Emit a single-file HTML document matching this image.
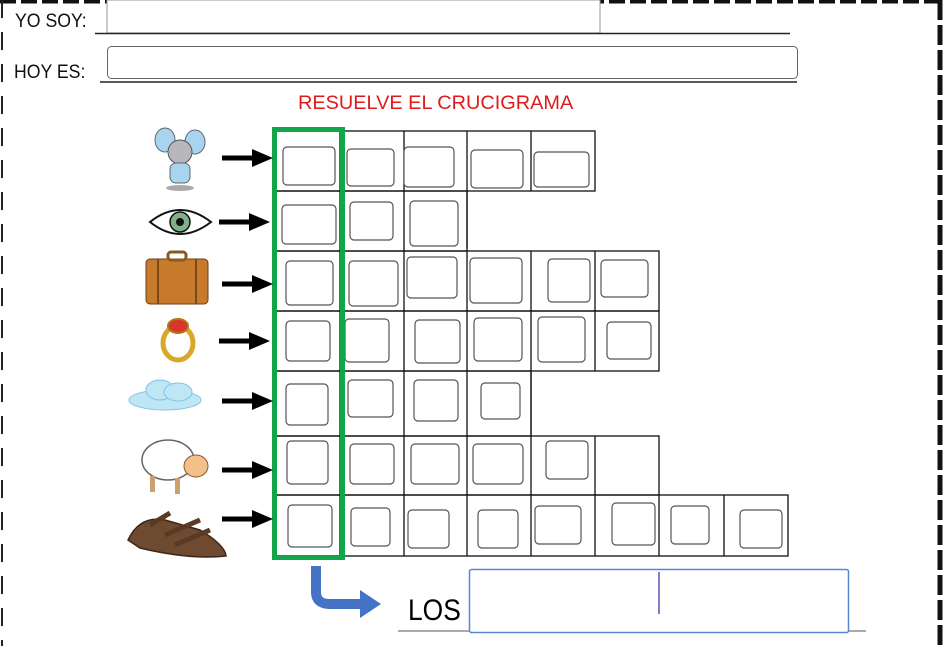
<!DOCTYPE html>
<html><head><meta charset="utf-8"><style>
body{margin:0;width:943px;height:646px;background:#fff;position:relative;overflow:hidden;font-family:"Liberation Sans",sans-serif}
.t{position:absolute;white-space:nowrap}
</style></head><body>
<svg width="943" height="646" style="position:absolute;left:0;top:0">
<line x1="0" y1="1.5" x2="943" y2="1.5" stroke="#111" stroke-width="4" stroke-dasharray="16,5"/>
<line x1="2" y1="0" x2="2" y2="646" stroke="#222" stroke-width="2" stroke-dasharray="18,14"/>
<line x1="940" y1="0" x2="940" y2="646" stroke="#111" stroke-width="5" stroke-dasharray="20,5"/>
<rect x="107" y="0" width="493" height="33" fill="#fff" stroke="#999" stroke-width="1"/>
<line x1="95" y1="33.5" x2="790" y2="33.5" stroke="#222" stroke-width="1.5"/>
<rect x="107.5" y="46.5" width="690" height="32" rx="4" fill="#fff" stroke="#666" stroke-width="1"/>
<line x1="100" y1="82" x2="797" y2="82" stroke="#222" stroke-width="1.5"/>
<g fill="none" stroke="#111" stroke-width="1.3">
<rect x="273" y="131" width="322" height="60"/>
<line x1="340" y1="131" x2="340" y2="556"/>
<line x1="404" y1="131" x2="404" y2="556"/>
<line x1="467" y1="131" x2="467" y2="248"/>
<line x1="531" y1="131" x2="531" y2="191"/>
<rect x="273" y="191" width="194" height="60"/>
<rect x="273" y="251" width="386" height="60"/>
<rect x="273" y="311" width="386" height="60"/>
<line x1="467" y1="251" x2="467" y2="436"/>
<line x1="531" y1="251" x2="531" y2="436"/>
<line x1="595" y1="251" x2="595" y2="371"/>
<rect x="273" y="371" width="258" height="65"/>
<rect x="273" y="436" width="386" height="59"/>
<line x1="467" y1="436" x2="467" y2="556"/>
<line x1="531" y1="436" x2="531" y2="556"/>
<line x1="595" y1="436" x2="595" y2="556"/>
<rect x="273" y="495" width="515" height="61"/>
<line x1="659" y1="495" x2="659" y2="556"/>
<line x1="724" y1="495" x2="724" y2="556"/>
</g>
<g fill="#fff" stroke="#555" stroke-width="1.2">
<rect x="283" y="147" width="52" height="38" rx="4"/><rect x="347" y="149" width="47" height="37" rx="4"/><rect x="404" y="147" width="50" height="40" rx="4"/><rect x="471" y="150" width="52" height="38" rx="4"/><rect x="534" y="152" width="55" height="35" rx="4"/>
<rect x="282" y="205" width="54" height="39" rx="4"/><rect x="350" y="202" width="43" height="38" rx="4"/><rect x="410" y="201" width="48" height="45" rx="4"/>
<rect x="286" y="261" width="47" height="44" rx="4"/><rect x="349" y="261" width="49" height="45" rx="4"/><rect x="407" y="257" width="50" height="41" rx="4"/><rect x="470" y="258" width="52" height="45" rx="4"/><rect x="548" y="259" width="42" height="43" rx="4"/><rect x="601" y="260" width="47" height="37" rx="4"/>
<rect x="286" y="321" width="44" height="40" rx="4"/><rect x="345" y="319" width="44" height="43" rx="4"/><rect x="415" y="320" width="45" height="43" rx="4"/><rect x="474" y="318" width="48" height="43" rx="4"/><rect x="538" y="317" width="47" height="45" rx="4"/><rect x="607" y="322" width="44" height="37" rx="4"/>
<rect x="286" y="384" width="42" height="41" rx="4"/><rect x="348" y="380" width="45" height="37" rx="4"/><rect x="414" y="380" width="44" height="41" rx="4"/><rect x="481" y="383" width="39" height="36" rx="4"/>
<rect x="287" y="441" width="41" height="43" rx="4"/><rect x="350" y="444" width="44" height="40" rx="4"/><rect x="411" y="444" width="48" height="40" rx="4"/><rect x="473" y="444" width="50" height="40" rx="4"/><rect x="546" y="441" width="42" height="38" rx="4"/>
<rect x="288" y="505" width="44" height="42" rx="4"/><rect x="351" y="508" width="39" height="38" rx="4"/><rect x="408" y="510" width="41" height="38" rx="4"/><rect x="478" y="510" width="40" height="38" rx="4"/><rect x="535" y="506" width="46" height="38" rx="4"/><rect x="612" y="503" width="43" height="42" rx="4"/><rect x="671" y="506" width="38" height="38" rx="4"/><rect x="740" y="510" width="42" height="38" rx="4"/>
</g>
<rect x="274.5" y="129.5" width="68" height="428" fill="none" stroke="#12a64a" stroke-width="5"/>
<g fill="#000">
<g transform="translate(0,158)"><rect x="222" y="-2.5" width="32" height="5"/><polygon points="252,-9 273,0 252,9"/></g>
<g transform="translate(-3,222)"><rect x="222" y="-2.5" width="32" height="5"/><polygon points="252,-9 273,0 252,9"/></g>
<g transform="translate(0,284)"><rect x="222" y="-2.5" width="32" height="5"/><polygon points="252,-9 273,0 252,9"/></g>
<g transform="translate(-3,341)"><rect x="222" y="-2.5" width="32" height="5"/><polygon points="252,-9 273,0 252,9"/></g>
<g transform="translate(0,401)"><rect x="222" y="-2.5" width="32" height="5"/><polygon points="252,-9 273,0 252,9"/></g>
<g transform="translate(0,470)"><rect x="222" y="-2.5" width="32" height="5"/><polygon points="252,-9 273,0 252,9"/></g>
<g transform="translate(0,519)"><rect x="222" y="-2.5" width="32" height="5"/><polygon points="252,-9 273,0 252,9"/></g>
</g>
<g>
<ellipse cx="165" cy="140" rx="10" ry="12" fill="#a9d4f0" stroke="#666"/>
<ellipse cx="195" cy="142" rx="10" ry="12" fill="#a9d4f0" stroke="#666"/>
<ellipse cx="180" cy="152" rx="12" ry="12" fill="#b8b8bc" stroke="#555"/>
<rect x="170" y="163" width="20" height="20" rx="6" fill="#a9d4f0" stroke="#666"/>
<ellipse cx="180" cy="188" rx="14" ry="3" fill="#aaa"/>
</g>
<g>
<path d="M150 222 Q180 198 211 222 Q180 246 150 222Z" fill="#fff" stroke="#111" stroke-width="2"/>
<circle cx="180" cy="222" r="10" fill="#7fb08a" stroke="#111" stroke-width="1.5"/>
<circle cx="180" cy="222" r="4" fill="#111"/>
</g>
<rect x="146" y="259" width="62" height="45" rx="4" fill="#c87a2c" stroke="#6b3d12"/>
<rect x="168" y="252" width="18" height="8" rx="3" fill="none" stroke="#8a5a1c" stroke-width="3"/>
<line x1="158" y1="259" x2="158" y2="304" stroke="#7a4a16" stroke-width="2"/>
<line x1="196" y1="259" x2="196" y2="304" stroke="#7a4a16" stroke-width="2"/>
<ellipse cx="178" cy="343" rx="15" ry="17" fill="none" stroke="#d9a72a" stroke-width="5"/>
<ellipse cx="178" cy="326" rx="10" ry="7" fill="#d9342e" stroke="#b07a10" stroke-width="2"/>
<g fill="#bfe6f5" stroke="#7cc6e6">
<ellipse cx="165" cy="400" rx="36" ry="10"/>
<ellipse cx="160" cy="390" rx="14" ry="10"/>
<ellipse cx="178" cy="392" rx="14" ry="9"/>
</g>
<g>
<ellipse cx="168" cy="460" rx="26" ry="20" fill="#fff" stroke="#666" stroke-width="1.5"/>
<ellipse cx="196" cy="466" rx="12" ry="11" fill="#f3c08a" stroke="#8a5a2a"/>
<rect x="150" y="476" width="5" height="16" fill="#caa070"/><rect x="175" y="478" width="5" height="16" fill="#caa070"/>
</g>
<path d="M128 540 Q140 515 165 520 L200 530 Q225 545 226 556 Q190 560 140 548Z" fill="#6d4a30" stroke="#3e2616" stroke-width="1.5"/>
<path d="M150 525 L170 513 M165 535 L200 520 M175 545 L210 530" stroke="#5a3a22" stroke-width="5"/>
<path d="M316 566 L316 592 Q316 604 330 604 L362 604" fill="none" stroke="#4472c4" stroke-width="10"/>
<polygon points="360,590 381,604 360,618" fill="#4472c4"/>
<line x1="398" y1="631" x2="866" y2="631" stroke="#555" stroke-width="1"/>
<rect x="469.5" y="569.5" width="379" height="63" rx="2" fill="#fff" stroke="#5b86d1" stroke-width="1.5"/>
<line x1="659" y1="572" x2="659" y2="614" stroke="#00008b" stroke-width="1"/>
</svg>
<div class="t" style="left:15px;top:11px;font-size:19px;color:#111;transform:scaleX(0.93);transform-origin:left">YO SOY:</div>
<div class="t" style="left:14px;top:62px;font-size:19px;color:#111;transform:scaleX(0.93);transform-origin:left">HOY ES:</div>
<div class="t" style="left:298px;top:92px;font-size:19.5px;color:#e01a1a;transform:scaleX(1.02);transform-origin:left">RESUELVE EL CRUCIGRAMA</div>
<div class="t" style="left:408px;top:594px;font-size:30px;color:#000;transform:scaleX(0.88);transform-origin:left">LOS</div>
</body></html>
